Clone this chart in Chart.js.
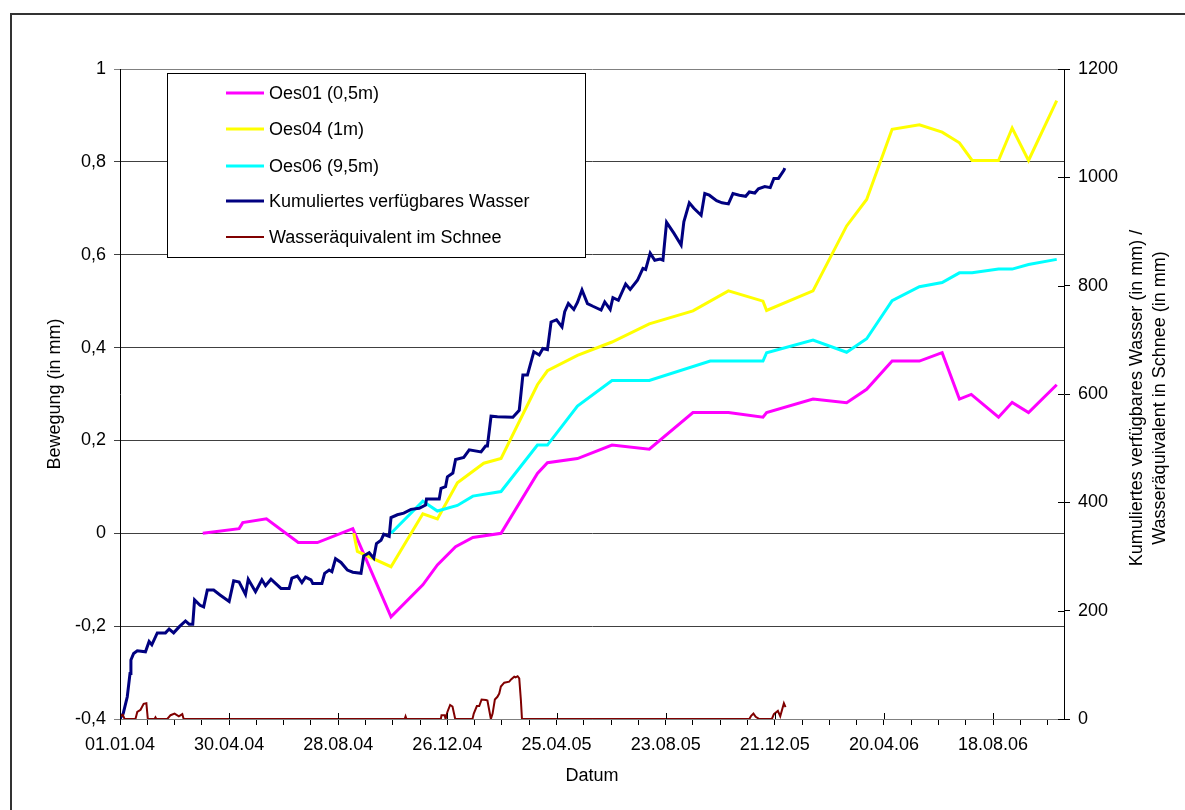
<!DOCTYPE html>
<html>
<head>
<meta charset="utf-8">
<script src="https://cdn.jsdelivr.net/npm/chart.js@4.4.0/dist/chart.umd.min.js"></script>
<style>
  html, body { margin: 0; padding: 0; background: #fff; }
  canvas { display: block; }
</style>
</head>
<body>
<canvas id="chart" width="1185" height="810"></canvas>
<script>
// days counted from 01.01.04
const oes01Days = [91, 131, 135, 161, 196, 217, 256, 298, 333, 349, 369, 388, 419, 459, 470, 503, 541, 582, 630, 669, 707, 711, 762, 799, 821, 849, 879, 904, 923, 936, 966, 981, 999, 1030]
const oes01Vals = [0, 0.01, 0.023, 0.031, -0.02, -0.02, 0.01, -0.18, -0.111, -0.068, -0.029, -0.009, 0, 0.129, 0.152, 0.161, 0.19, 0.181, 0.26, 0.26, 0.25, 0.26, 0.289, 0.281, 0.31, 0.371, 0.371, 0.389, 0.289, 0.299, 0.25, 0.282, 0.26, 0.32]

const oes04Days = [257, 261, 298, 333, 349, 371, 400, 419, 459, 470, 503, 541, 582, 630, 669, 707, 711, 762, 799, 821, 849, 879, 904, 923, 937, 966, 981, 999, 1030]
const oes04Vals = [0, -0.039, -0.072, 0.042, 0.031, 0.109, 0.151, 0.161, 0.32, 0.35, 0.383, 0.412, 0.451, 0.479, 0.522, 0.5, 0.48, 0.522, 0.662, 0.719, 0.87, 0.88, 0.864, 0.841, 0.803, 0.803, 0.873, 0.803, 0.932]

const oes06Days = [298, 333, 349, 371, 388, 419, 459, 470, 503, 541, 582, 649, 707, 711, 762, 799, 821, 849, 879, 904, 923, 937, 966, 981, 999, 1030]
const oes06Vals = [0, 0.069, 0.048, 0.06, 0.08, 0.09, 0.19, 0.19, 0.274, 0.329, 0.329, 0.371, 0.371, 0.389, 0.416, 0.39, 0.419, 0.501, 0.531, 0.54, 0.561, 0.561, 0.569, 0.569, 0.579, 0.59]

const wasserDays = [0, 0.5, 3.5, 8, 11, 12, 15, 19, 28, 32, 35, 41, 50, 54, 59, 65, 72, 76, 80, 82, 88, 92, 96, 103, 110, 120, 125, 131, 138, 141, 149, 156, 160, 166, 177, 186, 189, 195, 200, 204, 210, 212, 222, 225, 230, 233, 237, 243, 250, 256, 265, 268, 274, 279, 282, 287, 290, 296, 298, 305, 312, 320, 329, 336, 337, 351, 353, 358, 360, 366, 369, 378, 384, 397, 402, 404, 408, 415, 432, 439, 443, 448, 455, 461, 465, 470, 474, 480, 486, 489, 493, 499, 503, 508, 514, 520, 529, 533, 539, 542, 548, 556, 561, 569, 575, 578, 583, 588, 594, 597, 601, 609, 617, 620, 626, 631, 639, 643, 648, 656, 662, 669, 674, 681, 688, 692, 698, 702, 709, 715, 719, 724, 730, 731]
const wasserVals = [0, 2, 10, 41, 84, 109, 121, 126, 124, 143, 137, 159, 159, 166, 159, 170, 181, 175, 175, 220, 210, 207, 238, 238, 229, 217, 255, 253, 230, 258, 235, 257, 246, 258, 241, 241, 260, 264, 252, 262, 257, 250, 250, 269, 275, 272, 296, 289, 275, 271, 269, 301, 307, 297, 324, 330, 341, 337, 372, 377, 380, 387, 389, 395, 406, 406, 426, 429, 447, 454, 479, 483, 497, 493, 504, 504, 559, 558, 557, 570, 635, 635, 678, 672, 684, 682, 733, 737, 724, 752, 767, 756, 769, 792, 767, 762, 755, 770, 756, 778, 773, 803, 793, 810, 832, 830, 860, 847, 849, 847, 917, 897, 875, 918, 953, 943, 930, 970, 967, 957, 953, 951, 970, 967, 965, 973, 971, 979, 983, 981, 998, 998, 1013, 1017]

const schneeDays = [0, 3, 5, 17, 19, 22.6, 26, 29, 30.6, 38, 39, 40, 52, 55.6, 60, 64.7, 68.5, 70, 313, 314, 315, 352.8, 353.5, 357, 358, 360, 363, 365.6, 368.6, 387.6, 389, 392.4, 395, 397.6, 402.3, 404, 407.8, 409.7, 412.2, 415, 417, 418.8, 422.5, 428, 430, 433.5, 435, 437.2, 439, 440.8, 442, 692, 694, 696.5, 699, 703, 716.8, 719, 723.4, 726, 730, 731.8]
const schneeVals = [5, 8, 0, 0, 13, 17, 28, 29, 0, 0, 3, 0, 0, 7, 10, 5, 9, 0, 0, 5, 0, 0, 7, 7, 0, 13, 26, 23, 0, 0, 10, 24, 24, 36, 35, 34, 0, 10, 36, 41, 47, 60, 67, 69, 73, 78, 77, 79, 75, 35, 0, 0, 6, 10, 4, 0, 0, 9, 15, 5, 29, 22]

const seriesNames = ['Oes01 (0,5m)', 'Oes04 (1m)', 'Oes06 (9,5m)', 'Kumuliertes verfügbares Wasser', 'Wasseräquivalent im Schnee']
const seriesColors = ['#ff00ff', '#ffff00', '#00ffff', '#000080', '#800000']
const seriesWidths = [3, 3, 3, 3, 2]

const xMax = 1038
const start = Date.UTC(2004, 0, 1)

function pts(days, vals) {
  return days.map((d, i) => ({ x: d, y: vals[i] }))
}

function fmtDate(d) {
  const dt = new Date(start + d * 86400000)
  const p = n => String(n).padStart(2, '0')
  return p(dt.getUTCDate()) + '.' + p(dt.getUTCMonth() + 1) + '.' + String(dt.getUTCFullYear()).slice(2)
}

Chart.defaults.font.family = "'Liberation Sans', Arial, sans-serif"
Chart.defaults.font.size = 18
Chart.defaults.color = '#000'

const decor = {
  id: 'decor',
  beforeDraw(chart) {
    const ctx = chart.ctx
    ctx.save()
    ctx.fillStyle = '#fff'
    ctx.fillRect(0, 0, chart.width, chart.height)
    ctx.strokeStyle = '#333'
    ctx.lineWidth = 2
    ctx.strokeRect(11, 14, 1300, 900)
    ctx.restore()
  },
  afterDraw(chart) {
    const ctx = chart.ctx
    const a = chart.chartArea
    const xs = chart.scales.x
    const y2 = chart.scales.y2
    ctx.save()
    // major ticks crossing the axes
    ctx.strokeStyle = '#000'
    ctx.lineWidth = 1
    ctx.beginPath()
    for (let d = 0; d <= xMax; d += 120) {
      const px = Math.round(xs.getPixelForValue(d)) + 0.5
      ctx.moveTo(px, a.bottom)
      ctx.lineTo(px, a.bottom - 6)
    }
    for (let v = 0; v <= 1200; v += 200) {
      const py = Math.round(y2.getPixelForValue(v)) + 0.5
      ctx.moveTo(a.right, py)
      ctx.lineTo(a.right - 6, py)
    }
    ctx.stroke()

    // axis titles
    ctx.fillStyle = '#000'
    ctx.font = "18px 'Liberation Sans', Arial, sans-serif"
    ctx.textAlign = 'center'
    ctx.textBaseline = 'middle'
    ctx.fillText('Datum', (a.left + a.right) / 2, 776)
    ctx.save()
    ctx.translate(55, (a.top + a.bottom) / 2)
    ctx.rotate(-Math.PI / 2)
    ctx.fillText('Bewegung (in mm)', 0, 0)
    ctx.restore()
    ctx.save()
    ctx.translate(1137, 398)
    ctx.rotate(-Math.PI / 2)
    ctx.fillText('Kumuliertes verfügbares Wasser (in mm) /', 0, 0)
    ctx.fillText('Wasseräquivalent in Schnee (in mm)', 0, 23)
    ctx.restore()

    // legend box
    ctx.fillStyle = '#fff'
    ctx.fillRect(167, 73, 418, 184)
    ctx.strokeStyle = '#000'
    ctx.lineWidth = 1
    ctx.strokeRect(167.5, 73.5, 418, 184)
    const rows = [93, 129, 166, 201, 237]
    ctx.textAlign = 'left'
    seriesNames.forEach((name, i) => {
      ctx.strokeStyle = seriesColors[i]
      ctx.lineWidth = seriesWidths[i]
      ctx.beginPath()
      ctx.moveTo(226, rows[i])
      ctx.lineTo(264, rows[i])
      ctx.stroke()
      ctx.fillStyle = '#000'
      ctx.fillText(name, 269, rows[i] + 1)
    })
    ctx.restore()
  }
}

const allPts = [
  pts(oes01Days, oes01Vals),
  pts(oes04Days, oes04Vals),
  pts(oes06Days, oes06Vals),
  pts(wasserDays, wasserVals),
  pts(schneeDays, schneeVals)
]

new Chart(document.getElementById('chart'), {
  type: 'line',
  data: {
    datasets: allPts.map((data, i) => ({
      label: seriesNames[i],
      data: data,
      yAxisID: i < 3 ? 'y' : 'y2',
      borderColor: seriesColors[i],
      backgroundColor: seriesColors[i],
      borderWidth: seriesWidths[i],
      pointRadius: 0,
      tension: 0,
      fill: false,
      order: 5 - i
    }))
  },
  options: {
    responsive: false,
    devicePixelRatio: 1,
    animation: false,
    layout: { padding: { top: 69, left: 0, right: 0, bottom: 0 } },
    plugins: {
      legend: { display: false },
      tooltip: { enabled: false }
    },
    scales: {
      x: {
        type: 'linear',
        min: 0,
        max: xMax,
        afterFit: s => { s.height = 91 },
        grid: { drawOnChartArea: false, color: '#000', tickLength: 6 },
        border: { color: '#808080' },
        ticks: {
          stepSize: 30,
          includeBounds: false,
          autoSkip: false,
          maxRotation: 0,
          padding: 9,
          callback: v => (v % 120 === 0 ? fmtDate(v) : '')
        }
      },
      y: {
        position: 'left',
        min: -0.4,
        max: 1,
        afterFit: s => { s.width = 120 },
        grid: {
          color: c => (c.tick && (Math.abs(c.tick.value - 1) < 1e-6 || Math.abs(c.tick.value + 0.4) < 1e-6) ? '#808080' : '#404040'),
          tickLength: 6
        },
        border: { color: '#000' },
        ticks: {
          stepSize: 0.2,
          padding: 8,
          callback: v => String(Math.round(v * 10) / 10).replace('.', ',')
        }
      },
      y2: {
        position: 'right',
        min: 0,
        max: 1200,
        afterFit: s => { s.width = 121 },
        grid: { drawOnChartArea: false, color: '#000', tickLength: 6 },
        border: { color: '#000' },
        ticks: { stepSize: 200, padding: 8, callback: v => String(v) }
      }
    }
  },
  plugins: [decor]
})
</script>
</body>
</html>
